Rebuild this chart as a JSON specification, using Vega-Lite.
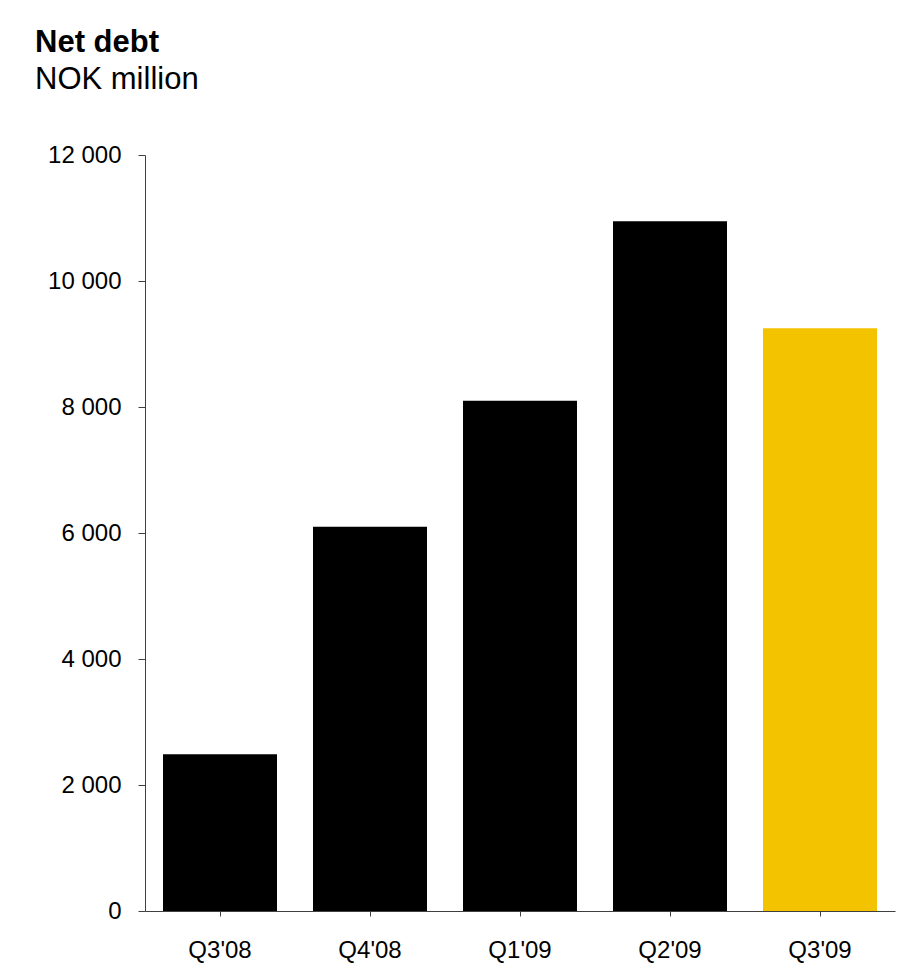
{
  "$schema": "https://vega.github.io/schema/vega-lite/v6.json",
  "width": 750,
  "height": 756,
  "autosize": {"type": "none"},
  "padding": {"left": 145, "top": 155, "right": 4, "bottom": 64},
  "background": "white",
  "title": {
    "text": "Net debt",
    "subtitle": "NOK million",
    "anchor": "start",
    "frame": "group",
    "dx": -110,
    "offset": 47,
    "font": "Liberation Sans",
    "fontSize": 31,
    "fontWeight": "bold",
    "color": "#000000",
    "subtitleFont": "Liberation Sans",
    "subtitleFontSize": 31,
    "subtitleColor": "#000000",
    "subtitlePadding": 6
  },
  "data": {
    "values": [
      {"quarter": "Q3'08", "net_debt": 2490},
      {"quarter": "Q4'08", "net_debt": 6100},
      {"quarter": "Q1'09", "net_debt": 8100},
      {"quarter": "Q2'09", "net_debt": 10950},
      {"quarter": "Q3'09", "net_debt": 9250}
    ]
  },
  "mark": {"type": "bar"},
  "encoding": {
    "x": {
      "field": "quarter",
      "type": "nominal",
      "sort": null,
      "scale": {"paddingInner": 0.24, "paddingOuter": 0.12},
      "axis": {
        "title": null,
        "labelAngle": 0,
        "labelFont": "Liberation Sans",
        "labelFontSize": 24,
        "labelColor": "#000000",
        "labelPadding": 22,
        "tickSize": 5,
        "tickColor": "#404040",
        "domainColor": "#404040",
        "grid": false
      }
    },
    "y": {
      "field": "net_debt",
      "type": "quantitative",
      "scale": {"domain": [0, 12000], "nice": false},
      "axis": {
        "title": null,
        "values": [0, 2000, 4000, 6000, 8000, 10000, 12000],
        "labelExpr": "replace(format(datum.value, ',d'), ',', ' ')",
        "labelFont": "Liberation Sans",
        "labelFontSize": 24,
        "labelColor": "#000000",
        "labelPadding": 17,
        "tickSize": 7,
        "tickColor": "#404040",
        "domainColor": "#404040",
        "grid": false
      }
    },
    "color": {
      "field": "quarter",
      "type": "nominal",
      "scale": {
        "domain": ["Q3'08", "Q4'08", "Q1'09", "Q2'09", "Q3'09"],
        "range": ["#000000", "#000000", "#000000", "#000000", "#F4C300"]
      },
      "legend": null
    }
  },
  "config": {
    "view": {"stroke": null}
  }
}
